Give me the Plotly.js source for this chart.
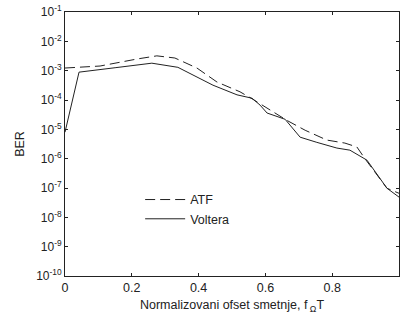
<!DOCTYPE html>
<html><head><meta charset="utf-8">
<script src="https://cdn.plot.ly/plotly-3.0.1.min.js"></script>
<style>html,body{margin:0;padding:0;background:#fff;}#c{width:403px;height:322px;}</style>
</head><body><div id="c"></div>
<script>
const atfX = [0, 0.105, 0.216, 0.275, 0.329, 0.395, 0.455, 0.494, 0.524, 0.56, 0.608, 0.665, 0.719, 0.784, 0.838, 0.874, 0.898, 0.964, 1.0];
const atfY = [1.23e-3, 1.44e-3, 2.5e-3, 3.2e-3, 2.7e-3, 1.23e-3, 4.1e-4, 2.7e-4, 1.9e-4, 1.1e-4, 5.2e-5, 2.0e-5, 9.3e-6, 4.3e-6, 3.4e-6, 2.5e-6, 1.0e-6, 9.8e-8, 6.6e-8];
const volX = [0, 0.042, 0.15, 0.26, 0.338, 0.383, 0.443, 0.515, 0.56, 0.584, 0.605, 0.659, 0.704, 0.754, 0.814, 0.853, 0.904, 0.964, 1.0];
const volY = [8e-6, 8.9e-4, 1.26e-3, 1.8e-3, 1.3e-3, 7.1e-4, 3.2e-4, 1.5e-4, 1.15e-4, 6.7e-5, 3.6e-5, 2.2e-5, 5.4e-6, 3.6e-6, 2.3e-6, 1.95e-6, 8.9e-7, 9.8e-8, 4.9e-8];
const yTickVals = [1e-10, 1e-9, 1e-8, 1e-7, 1e-6, 1e-5, 1e-4, 1e-3, 1e-2, 1e-1];
const yTickText = ['10<sup>-10</sup>','10<sup>-9</sup>','10<sup>-8</sup>','10<sup>-7</sup>','10<sup>-6</sup>','10<sup>-5</sup>','10<sup>-4</sup>','10<sup>-3</sup>','10<sup>-2</sup>','10<sup>-1</sup>'];
const xTickVals = [0, 0.2, 0.4, 0.6, 0.8];
const xTickText = ['0', '0.2', '0.4', '0.6', '0.8'];

const traces = [
  {x: atfX, y: atfY, type: 'scatter', mode: 'lines', name: 'ATF',
   line: {color: '#222', width: 1, dash: '10px,5px'}},
  {x: volX, y: volY, type: 'scatter', mode: 'lines', name: 'Voltera',
   line: {color: '#222', width: 1}}
];
const font = {family: 'Liberation Sans, Arial, sans-serif', color: '#222', size: 12};
const layout = {
  width: 403, height: 322,
  margin: {l: 65, r: 4, t: 12, b: 46},
  paper_bgcolor: '#fff', plot_bgcolor: '#fff',
  font: font,
  showlegend: true,
  legend: {x: 0.225, y: 0.345, xanchor: 'left', yanchor: 'top', bgcolor: 'rgba(0,0,0,0)',
           font: {family: font.family, size: 12.5, color: '#222'}, tracegroupgap: 0, itemwidth: 40},
  xaxis: {range: [0, 1], tickvals: xTickVals, ticktext: xTickText, ticks: 'inside', ticklen: 3,
          tickcolor: '#222', showline: true, linecolor: '#222', linewidth: 1, mirror: 'ticks',
          showgrid: false, zeroline: false, tickfont: {size: 12.5},
          title: {text: 'Normalizovani ofset smetnje, f<sub> Ω</sub>T', font: {size: 12.5}, standoff: 6}},
  yaxis: {type: 'log', range: [-10, -1], tickvals: yTickVals, ticktext: yTickText, ticks: 'inside', ticklen: 3,
          tickcolor: '#222', showline: true, linecolor: '#222', linewidth: 1, mirror: 'ticks',
          showgrid: false, zeroline: false, tickfont: {size: 12},
          title: {text: 'BER', font: {size: 12.5}, standoff: 8}}
};
Plotly.newPlot('c', traces, layout, {displayModeBar: false, staticPlot: true});
</script></body></html>
